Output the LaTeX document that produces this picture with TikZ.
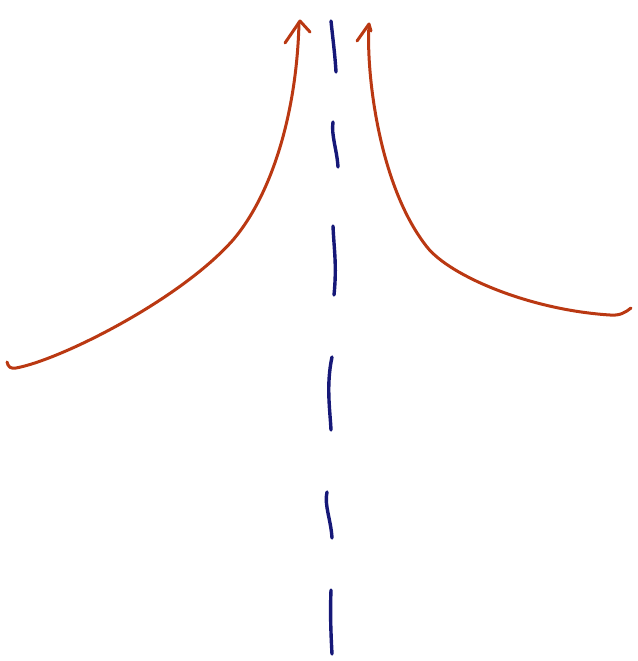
\documentclass[tikz,border=0pt]{standalone}
\begin{document}
\begin{tikzpicture}[x=1pt,y=-1pt,
  redline/.style={draw={rgb,255:red,186;green,56;blue,18},line width=3pt,line cap=round,line join=round},
  blueline/.style={draw={rgb,255:red,22;green,24;blue,120},line width=3.4pt,line cap=round,line join=round}]
\useasboundingbox (0,0) rectangle (637,661);
% left curve
\draw[redline] (7,362) .. controls (8,367) and (11,369) .. (16,368)
  .. controls (60,360) and (180,300) .. (233,240)
  .. controls (273,193) and (297,110) .. (299,22);
\draw[redline] (285,43) -- (300,21) -- (310,32);
% right curve
\draw[redline] (369,25) .. controls (366,70) and (378,185) .. (427,247)
  .. controls (450,276) and (530,310) .. (610,315)
  .. controls (620,316) and (626,312) .. (631,308);
\draw[redline] (357,41) -- (369,24) -- (371,31);
% blue dashes
\draw[blueline] (331,21) .. controls (333,40) and (335,55) .. (336,72);
\draw[blueline] (333,122) .. controls (331,135) and (337,150) .. (338,167);
\draw[blueline] (333,226) .. controls (334,250) and (337,265) .. (334,295);
\draw[blueline] (332,357) .. controls (326,385) and (330,410) .. (331,430);
\draw[blueline] (327,492) .. controls (324,505) and (331,520) .. (332,538);
\draw[blueline] (331,590) .. controls (330,615) and (331,635) .. (332,654);
\end{tikzpicture}
\end{document}
